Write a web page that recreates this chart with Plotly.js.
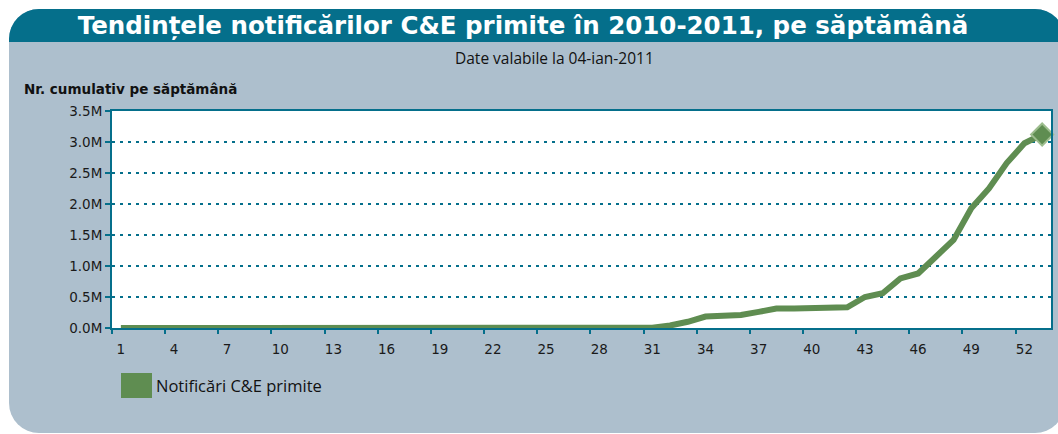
<!DOCTYPE html>
<html>
<head>
<meta charset="utf-8">
<script src="https://cdn.plot.ly/plotly-3.0.1.min.js"></script>
<style>
  html, body { margin:0; padding:0; background:#ffffff; width:1058px; height:434px; overflow:hidden; }
  #panel { position:absolute; left:9px; top:9px; width:1056px; height:424px; background:#adbfcd; border-radius:30px; }
  #bar { position:absolute; left:9px; top:9px; width:1056px; height:33px; background:#056f8b; border-radius:30px 30px 0 0; }
  #chart { position:absolute; left:0; top:0; width:1058px; height:434px; }
</style>
</head>
<body>
<div id="panel"></div>
<div id="bar"></div>
<div id="chart"></div>
<script>
const weeks = Array.from({length:53}, (_, i) => String(i + 1));
const notificari = [
  0, 0, 0, 0, 0, 0, 0, 0, 0, 0,
  0, 0, 0, 0, 0, 0, 0, 0, 0, 0,
  0, 0, 0, 0, 0, 0, 0, 0, 0, 0,
  5000, 40000, 100000, 185000, 190000, 210000, 260000, 315000, 315000, 318000,
  330000, 335000, 500000, 560000, 800000, 880000, 1150000, 1420000, 1930000, 2250000,
  2660000, 2980000, 3120000
];
const yTickVals = [0, 500000, 1000000, 1500000, 2000000, 2500000, 3000000, 3500000];
const yTickText = ["0.0M", "0.5M", "1.0M", "1.5M", "2.0M", "2.5M", "3.0M", "3.5M"];
const titleText = "Tendințele notificărilor C&E primite în 2010-2011, pe săptămână";
const subtitleText = "Date valabile la 04-ian-2011";
const yTitleText = "Nr. cumulativ pe săptămână";
const seriesName = "Notificări C&E primite";

const green = "#5f8d51";
const teal = "#056f8b";
const wideFont = "DejaVu Sans, Verdana, sans-serif";
const textFont = "Open Sans, Lato, sans-serif";

const lineTrace = {
  x: weeks, y: notificari, type: "scatter", mode: "lines", name: seriesName,
  line: { color: green, width: 6 },
  showlegend: false, hoverinfo: "none", cliponaxis: false
};
const lastTrace = {
  x: weeks.slice(-1), y: notificari.slice(-1), type: "scatter", mode: "markers", name: seriesName,
  marker: { symbol: "diamond", size: 17, color: green, line: { color: "#9dbd8e", width: 2 } },
  showlegend: false, hoverinfo: "none", cliponaxis: false
};

const layout = {
  width: 1058, height: 434,
  margin: { l: 112, r: 7, t: 111, b: 106 },
  paper_bgcolor: "rgba(0,0,0,0)", plot_bgcolor: "#ffffff",
  font: { family: wideFont, size: 13, color: "#1a1a1a" },
  title: { text: "<b>" + titleText + "</b>", font: { family: wideFont, size: 24.5, color: "#ffffff" },
           x: (523-112)/939, xanchor: "center", xref: "paper", y: 1 - 25/434, yanchor: "middle", yref: "container" },
  xaxis: {
    type: "category", range: [-0.5, 52.5], dtick: 3, tick0: 0, tickangle: 0,
    tickson: "boundaries", ticks: "outside", ticklen: 4, tickwidth: 2, tickcolor: teal,
    ticklabelstandoff: 8,
    showgrid: false, showline: true, linecolor: teal, linewidth: 2, mirror: true,
    tickfont: { family: wideFont, size: 13.5, color: "#1a1a1a" }, zeroline: false, fixedrange: true
  },
  yaxis: {
    range: [0, 3500000], tickvals: yTickVals, ticktext: yTickText,
    ticks: "outside", ticklen: 5, tickwidth: 2, tickcolor: teal,
    showgrid: true, gridcolor: teal, griddash: "3px,5px", gridwidth: 2,
    showline: true, linecolor: teal, linewidth: 2, mirror: true, zeroline: false,
    tickfont: { family: wideFont, size: 13.5, color: "#1a1a1a" }, fixedrange: true
  },
  shapes: [
    { type: "rect", xref: "paper", yref: "paper", x0: 9/939, x1: 40/939, y0: -(373-328)/217, y1: -(398-328)/217,
      fillcolor: green, line: { width: 0 } }
  ],
  annotations: [
    { text: subtitleText, xref: "paper", yref: "paper", x: (554-112)/939, y: (328-58)/217, xanchor: "center", yanchor: "middle",
      showarrow: false, font: { family: textFont, size: 15.5, color: "#111111" } },
    { text: "<b>" + yTitleText + "</b>", xref: "paper", yref: "paper", x: (22-112)/939, y: (328-89)/217, xanchor: "left", yanchor: "middle",
      showarrow: false, font: { family: wideFont, size: 13.5, color: "#111111" } },
    { text: seriesName, xref: "paper", yref: "paper", x: (154-112)/939, y: -(385-328)/217, xanchor: "left", yanchor: "middle",
      showarrow: false, font: { family: textFont, size: 16.5, color: "#111111" } }
  ]
};

Plotly.newPlot("chart", [lineTrace, lastTrace], layout, { displayModeBar: false, staticPlot: true });
</script>
</body>
</html>
